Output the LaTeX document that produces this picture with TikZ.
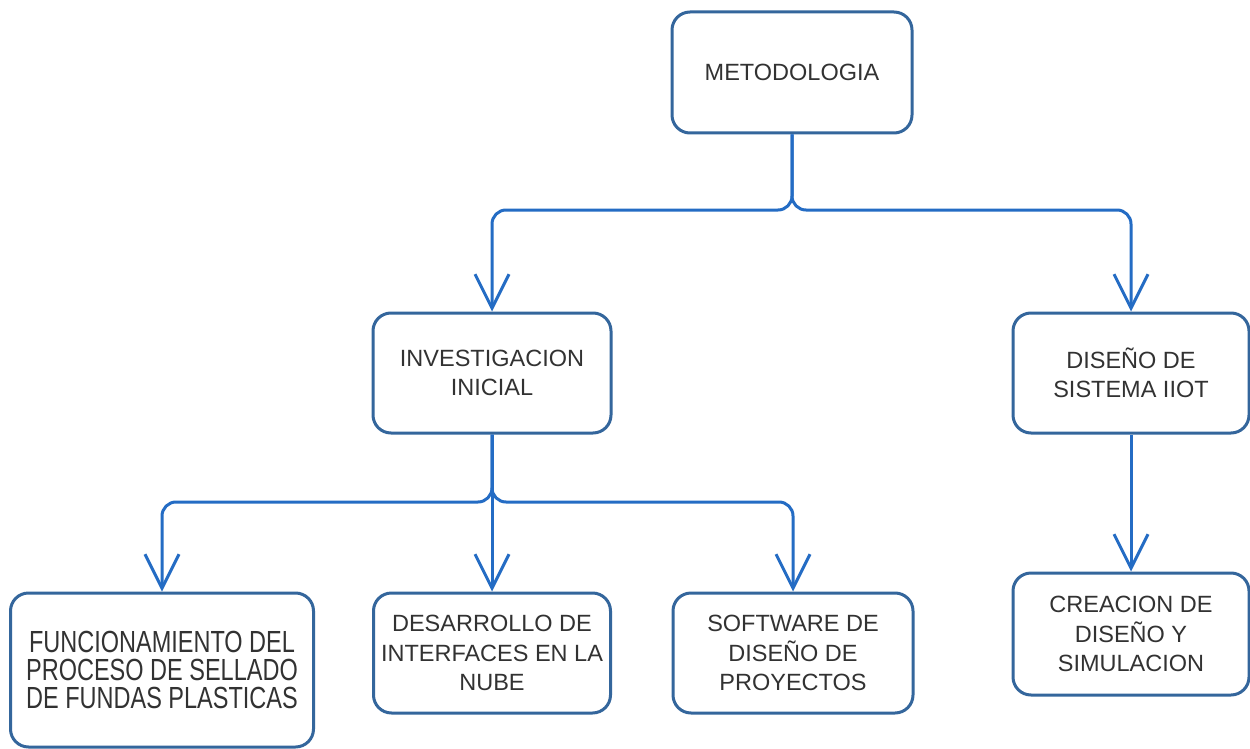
\documentclass[tikz,border=0pt]{standalone}
\usepackage{fontspec}
\setmainfont{Liberation Sans}
\usetikzlibrary{arrows.meta}
\definecolor{boxblue}{RGB}{52,102,156}
\definecolor{lineblue}{RGB}{36,108,196}
\definecolor{txt}{RGB}{50,50,50}
\begin{document}
\begin{tikzpicture}[x=1pt,y=-1pt,
  box/.style={draw=boxblue, line width=3pt, rounded corners=18pt, fill=white,
    align=center, inner sep=0pt, text=txt,
    font=\fontsize{23.5}{29.5}\selectfont},
  conn/.style={draw=lineblue, line width=3pt, rounded corners=14pt,
    -{Straight Barb[length=34pt,width=34pt]}}]
\useasboundingbox[fill=white] (0,0) rectangle (1250,749);
\node[box, minimum width=240pt, minimum height=121pt] (mt) at (792,72.5) {METODOLOGIA};
\node[box, minimum width=238pt, minimum height=120pt] (ii) at (492,373) {INVESTIGACION\\INICIAL};
\node[box, minimum width=236pt, minimum height=120pt] (ds) at (1131,373) {DISEÑO DE\\SISTEMA IIOT};
\node[box, minimum width=236pt, minimum height=122pt] (cd) at (1131,634) {CREACION DE\\DISEÑO Y\\SIMULACION};
\node[box, minimum width=303pt, minimum height=154pt] (fp) at (162,670)
  {\raisebox{-3pt}{\scalebox{1}[1.3]{\parbox{300pt}{\centering\fontsize{23.5}{21.2}\selectfont
   FUNCIONAMIENTO DEL\\PROCESO DE SELLADO\\DE FUNDAS PLASTICAS}}}};
\node[box, minimum width=237pt, minimum height=120pt] (di) at (492,653) {DESARROLLO DE\\INTERFACES EN LA\\NUBE};
\node[box, minimum width=240pt, minimum height=120pt] (sw) at (793,653) {SOFTWARE DE\\DISEÑO DE\\PROYECTOS};
\coordinate (j1) at (792,210);
\coordinate (j2) at (492,502);
\draw[conn] (mt.south) -- (j1) -| (ii.north);
\draw[conn] (mt.south) -- (j1) -| (ds.north);
\draw[conn] (ds.south) -- (cd.north);
\draw[conn] (ii.south) -- (j2) -| (fp.north);
\draw[conn] (ii.south) -- (di.north);
\draw[conn] (ii.south) -- (j2) -| (sw.north);
\end{tikzpicture}
\end{document}
